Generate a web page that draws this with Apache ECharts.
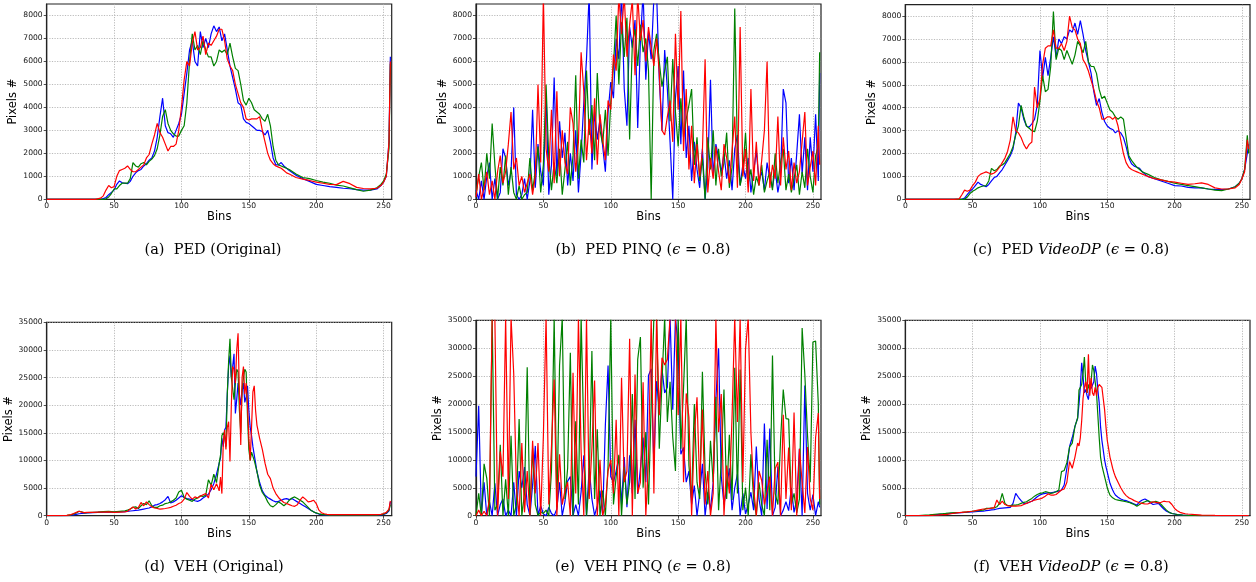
<!DOCTYPE html>
<html><head><meta charset="utf-8">
<script src="https://cdn.jsdelivr.net/npm/echarts@6/dist/echarts.min.js"></script>
<style>html,body{margin:0;padding:0;background:#fff}#c{width:1256px;height:582px}</style>
</head><body><div id="c"></div>
<script>
// ---------- tick labels ----------
const binTicks = [0,50,100,150,200,250];
const pedYTicks = [0,1000,2000,3000,4000,5000,6000,7000,8000];
const vehYTicks = [0,5000,10000,15000,20000,25000,30000,35000];
const pedYMax = 8500, vehYMax = 35000, binMax = 256;

// ---------- bins (x values) ----------
const pedBins = [0,10,20,30,36,
40,42,44,46,48,50,52,54,56,58,60,62,64,66,68,70,72,74,76,78,80,82,84,86,88,90,92,94,96,98,100,102,104,106,108,110,112,114,116,118,120,122,124,126,128,130,132,134,136,138,140,142,144,146,148,150,152,154,156,158,160,162,164,166,168,170,172,174,176,178,180,
185,190,195,200,205,210,215,220,225,230,235,240,245,
248,250,252,254,255];
const vehBins = [0,10,15,18,20,22,24,26,28,30,34,38,42,46,50,54,58,
60,62,64,66,68,70,72,74,76,78,80,82,84,86,88,90,92,94,96,98,100,102,104,106,108,110,112,114,116,118,120,122,124,126,128,
129,130,131,132,133,134,135,136,137,138,139,140,141,142,143,144,145,146,147,148,149,150,151,152,153,154,155,156,
158,160,162,164,166,168,170,172,174,176,178,180,182,184,186,188,190,192,194,196,198,200,202,204,206,208,210,
215,220,225,230,235,240,245,
248,250,252,254,255];
const pinqBins = [0,2,4,6,8,10,12,14,16,18,20,22,24,26,28,30,32,34,36,38,40,42,44,46,48,50,52,54,56,58,60,62,64,66,68,70,72,74,76,78,80,82,84,86,88,90,92,94,96,98,100,102,104,106,108,110,112,114,116,118,120,122,124,126,128,130,132,134,136,138,140,142,144,146,148,150,152,154,156,158,160,162,164,166,168,170,172,174,176,178,180,182,184,186,188,190,192,194,196,198,200,202,204,206,208,210,212,214,216,218,220,222,224,226,228,230,232,234,236,238,240,242,244,246,248,250,252,254,255];

// ---------- (a) PED Original ----------
const pedOrigBlue = [0,0,0,0,0,
0,30,80,200,300,400,650,800,720,700,
680,780,1000,1150,1250,1300,1450,1550,1700,1800,
2100,2700,3600,4400,3200,2900,2850,2700,3000,3300,
3700,4600,5500,6500,6900,6000,5800,7300,6600,7000,
6600,7200,7550,7300,7500,6900,7200,6500,5800,5300,
4800,4200,4100,3500,3350,3300,3200,3100,3000,3000,
2950,2800,3000,2500,1800,1500,1500,1600,1450,1350,
1250,
1050,900,780,650,600,550,520,480,460,420,400,400,450,
600,750,1000,2500,6200];
const pedOrigGreen = [0,0,0,0,0,
0,0,20,100,250,450,450,600,700,700,
700,900,1600,1450,1400,1550,1600,1500,1650,1750,
1900,2200,2800,3600,3900,3300,3000,2850,2750,2750,
3000,3200,4200,6000,7200,6500,6700,6300,6900,6500,
6200,6200,5800,6000,6500,6400,6500,6300,6800,6200,
5700,5600,5000,4300,4100,4400,4200,3900,3800,3700,
3500,3400,3700,3200,2300,1700,1500,1450,1400,1350,
1300,
1100,950,900,820,750,700,620,580,500,420,350,400,500,
650,800,1100,2200,5900];
const pedOrigRed = [0,0,0,0,0,
50,150,400,600,500,550,1000,1250,1300,1350,
1450,1300,1200,1200,1300,1400,1500,1800,1950,2400,
2800,3300,2900,2700,2400,2100,2300,2300,2400,3000,
4000,5200,6000,5800,6800,7300,6500,6600,7100,6300,
6800,6700,6900,7100,7400,7400,6900,6100,5800,5600,
5000,4600,4200,4000,3500,3450,3500,3500,3500,3600,
3000,2500,2000,1700,1550,1450,1400,1350,1250,1150,
1100,
950,880,820,750,700,650,640,780,680,520,470,450,480,
600,750,1000,2500,6000];

// ---------- (b) PED PINQ ----------
const pedPinqBlue = [
400,0,800,0,1000,1600,0,900,0,300,
2200,1800,600,1200,4000,200,0,200,900,0,
800,3900,500,2400,1200,600,4600,200,1500,5300,
1000,3400,1800,2900,600,2000,800,3000,300,2000,
4200,6100,9000,1300,3800,2600,3500,2300,1200,3800,
5100,4400,7000,6100,9000,4800,3200,7500,6600,7800,
3100,6900,9000,5200,7300,6100,8800,9000,5200,3000,
6500,4800,2500,0,4400,5800,2400,5600,1800,3200,
800,2500,1300,500,2200,0,1400,5200,1000,2400,
1800,1200,2000,900,1700,400,2200,2800,600,1500,
900,1800,300,1200,2100,800,1200,400,1600,900,
500,1300,300,1000,4800,4200,700,1800,400,2000,
3700,1100,2700,400,2700,1200,3700,800,
5500];
const pedPinqGreen = [
200,1000,1600,400,2000,900,3300,1500,0,1400,
600,1900,200,1400,300,0,600,0,200,300,
1800,400,1200,2300,300,1500,5000,1800,400,1600,
700,2200,200,1300,2500,600,1900,5400,900,2600,
1600,5600,2800,4100,1700,5500,3000,2400,3900,1900,
4200,5800,8000,5000,7700,6200,7900,2600,6800,7400,
5800,7600,6400,7000,5600,0,6500,7200,6000,4900,
5600,6200,3400,6100,3800,2300,4400,2700,3500,4100,
4800,1500,2700,800,1800,0,2700,1300,3000,600,
2200,1000,1600,2900,500,1400,8300,2000,600,1200,
2900,700,1300,200,1000,600,1500,300,800,1200,
400,2000,700,1600,2200,400,1100,300,900,1500,
200,1200,500,2200,1000,300,1900,2300,
6400];
const pedPinqRed = [
100,1100,0,500,1200,200,800,0,1200,1900,
700,1200,2400,3800,1300,1800,600,1000,300,700,
1100,200,1000,5000,1600,8900,2200,1200,3900,700,
4700,1000,3000,1600,1100,4000,3300,1200,2500,6400,
4700,1700,3500,2000,4400,1500,3700,2600,1700,4300,
3900,6300,5600,8900,7200,8900,6200,7600,8700,5400,
8900,6900,7800,6000,7500,6600,5800,7000,5500,3000,
2800,3600,4300,2500,7200,3900,8200,2100,4800,1300,
3200,700,2400,1000,2100,6100,300,1800,900,2300,
1200,400,2400,1800,700,2100,3600,500,7500,1000,
2200,300,4800,800,2500,600,1700,3000,6000,500,
1500,900,3600,600,2700,1300,2100,400,1600,700,
1200,2500,3800,600,1400,2100,600,3200,
1500];

// ---------- (c) PED VideoDP ----------
const pedDpBlue = [0,0,0,0,0,
0,0,50,200,350,450,600,750,650,600,
550,650,800,950,1000,1150,1300,1500,1700,1900,
2200,2900,4200,4000,3500,3200,3150,3300,3500,4100,
6500,5300,6200,5400,6200,7100,6200,7000,6800,7100,
7000,7400,7300,7700,7200,7800,7200,6500,6000,5500,
4700,4100,4400,3800,3400,3200,3100,3050,2900,3000,
2900,2700,2300,1800,1550,1450,1400,1350,1200,1100,
1000,
900,800,700,600,580,520,500,500,450,430,420,450,550,
700,900,1300,2000,2400];
const pedDpGreen = [0,0,0,0,0,
0,0,0,100,250,350,420,500,550,580,
600,800,1350,1250,1300,1450,1500,1600,1800,2000,
2300,2800,3200,4100,3600,3200,3100,3000,2950,3400,
4300,5400,4700,4800,5800,8200,6100,6600,6500,6100,
6500,6200,5900,6300,6900,6700,6400,6900,6000,5800,
5800,5500,4800,4400,4500,4200,3900,3800,3600,3500,
3600,3500,2700,1900,1700,1550,1400,1300,1200,1150,
1100,
950,850,780,700,650,600,550,500,450,400,380,450,550,
700,900,1300,2800,2000];
const pedDpRed = [0,0,0,0,0,
20,200,400,350,400,600,750,1000,1100,1150,
1200,1150,1100,1150,1250,1400,1600,1800,2100,2600,
3600,3000,2900,2700,2400,2200,2400,2500,4900,4000,
4400,5900,6600,6700,6700,7400,6600,6600,6800,6500,
6900,8000,7500,7400,7000,6800,6100,5900,5600,5200,
4800,4300,4000,3500,3500,3600,3600,3500,3600,3200,
2600,2000,1600,1400,1300,1250,1200,1150,1100,1050,
1000,
900,850,780,750,700,650,680,720,650,500,450,450,500,
650,900,1200,2600,2200];

// ---------- (d) VEH Original ----------
const vehOrigBlue = [0,0,30,80,150,250,350,400,450,500,550,600,650,650,650,700,750,
800,850,900,950,1000,1100,1200,1300,1400,1600,1900,2000,2200,2500,2900,3500,2300,2500,2800,3200,3600,3300,3100,3000,2900,2700,2600,2800,3200,3500,3900,4700,5800,7500,9500,
10500,14000,12500,15500,16000,22000,27000,29000,25000,27000,29300,18500,21000,24000,22000,20000,22500,24000,20500,21500,23500,19000,16000,14500,12500,11000,9500,8000,
6000,4500,3700,3300,3000,2700,2500,2600,2800,3000,3100,2900,3100,2800,2500,2200,1900,1600,1300,1000,700,450,300,200,150,120,100,
100,100,100,100,100,100,100,
150,250,400,900,2500];
const vehOrigGreen = [0,0,50,150,300,500,800,700,500,550,600,650,750,800,700,800,900,
1000,1200,1500,1600,1300,1800,2200,2000,2700,1800,1500,1500,1800,1900,2200,2300,2500,2800,3200,4300,4600,3300,3000,2800,2600,3000,3200,3600,3500,3700,6500,5500,7500,6000,9500,
11000,14500,15000,14500,12500,22000,28000,32000,25000,23000,21000,24000,26500,26000,19000,15000,23000,25000,26500,26000,18000,12000,10000,11500,11200,10000,9000,8000,
5500,4200,3500,2500,1800,1600,2000,2500,2200,1800,2200,2800,3200,3400,3100,2800,2500,2000,1500,1000,700,500,350,250,200,150,120,
100,100,100,100,100,100,120,
200,300,500,1000,2000];
const vehOrigRed = [0,0,50,200,400,600,800,650,550,600,600,650,650,700,600,650,700,
800,1200,1600,1200,1500,2400,1800,2500,2000,1600,1400,1300,1200,1250,1300,1400,1500,1700,1900,2200,2400,3000,4200,3500,3000,3400,3200,3500,3800,4000,3200,5700,4700,5800,4500,
7000,4000,13000,15500,12000,16000,17000,9800,20000,27000,26500,24000,30000,33000,22000,12800,25000,27000,22000,24000,20000,14000,10000,16000,22400,23500,19000,16400,
14000,12000,9500,7500,6700,5000,4000,3300,2800,2400,2200,2000,1800,1700,2000,2800,3400,3000,2500,2600,2800,2200,1000,500,350,250,200,
180,180,180,180,180,180,180,
250,400,600,1200,2700];

// ---------- (e) VEH PINQ ----------
const vehPinqBlue = [
7000,19700,0,6000,0,2500,0,5800,0,2000,
3000,0,1000,0,6000,0,8000,5000,8700,2000,
0,5500,12500,0,1800,300,0,1500,400,0,
1200,6000,0,2500,6200,7000,0,2000,0,4300,
10800,0,8600,3000,0,1800,4500,0,16300,26900,
7000,6000,8000,10600,2000,10500,1500,10800,4000,17200,
3900,8400,14000,6000,25100,26300,9000,24100,19000,26300,
22000,23000,35500,19000,35500,30400,11000,12200,6000,8000,
2000,5400,0,4000,9300,0,4200,1000,6000,20800,
30000,7000,2000,5000,8500,1000,5000,7500,0,4000,
300,2000,4200,1000,12400,3000,0,16500,1200,15600,
0,1500,8800,0,1000,2500,900,5000,600,3000,
12000,0,23300,4000,1000,3800,0,2500,
1500];
const vehPinqGreen = [
0,4000,0,9300,6700,0,35500,1000,2000,12700,
0,6500,0,14300,0,2000,17300,0,4000,26600,
0,12100,2000,0,700,400,1000,0,8000,35500,
1500,26900,35500,3000,8500,29200,0,16900,2000,35500,
14500,0,6000,29500,3000,15500,0,4500,0,9000,
35500,2000,7000,10900,0,8700,2000,6000,21800,3000,
28000,32000,5000,15000,2000,20000,35500,35500,12000,24000,
35500,16800,24000,14000,8000,35500,12000,22900,35500,9000,
3000,20000,6000,3000,25800,8000,2000,13400,6000,21300,
1000,10000,22600,3000,14500,2800,26500,4000,26200,1000,
5000,0,11000,3000,0,6000,2000,0,13600,1000,
28700,4000,2000,13500,22600,17400,17300,2000,4000,500,
3000,33600,25300,14400,6000,31100,31300,20000,
2000];
const vehPinqRed = [
0,1000,0,800,0,3000,35500,35500,0,11500,
7000,35500,3000,35500,25400,5000,0,13000,600,8000,
0,13400,4000,13000,0,14300,35500,2000,12300,24400,
0,11000,2000,4500,6000,0,25600,4000,35500,11500,
0,35500,3000,12000,24200,0,10000,0,2000,8000,
10000,4000,17200,0,24700,6000,8000,31700,0,25300,
4000,6000,23900,0,10000,35500,4000,35500,18000,28300,
27000,28000,35500,35500,35500,18000,35500,6000,21900,17600,
0,14500,21200,5000,19000,2000,8000,0,4000,35500,
15000,21800,0,9000,4000,17700,35500,16800,35500,6000,
29800,35500,14800,5000,0,8000,6300,2000,4300,7000,
0,8400,9600,0,18100,3000,12200,1000,18500,0,
12000,6000,500,12300,3000,1000,14000,18400,
3000];

// ---------- (f) VEH VideoDP ----------
const vehDpBlue = [0,0,20,60,100,150,200,250,280,300,400,480,550,620,700,750,800,
900,950,1050,1100,1200,1300,1350,1400,1450,1500,2200,4000,3300,2700,2200,2200,2400,2600,3000,3400,3700,3900,4000,4100,4100,4200,4300,4400,4600,5500,8500,12400,14000,16000,17500,
20000,23000,27400,25000,22000,22600,21500,20800,23200,22800,22500,24000,26800,25500,22500,20200,16000,13500,11800,10000,8800,7800,6800,5800,5200,4600,4100,3700,
3300,3000,2800,2700,2500,2300,2100,1900,2500,2800,3000,2700,2300,2000,2100,2200,1700,1200,800,600,400,300,200,150,100,80,60,
50,30,20,10,0,0,0,
0,0,0,0,0];
const vehDpGreen = [0,0,100,150,200,250,300,330,360,400,500,560,620,700,800,900,1000,
1300,1300,1350,1400,1600,2200,4000,2200,1800,1800,1900,1900,2000,2200,2400,2500,2800,3100,3500,3800,4000,4100,4300,4200,4000,4100,4300,4600,7900,8100,9500,12300,13000,16000,17500,
22500,22500,23500,25500,28400,24000,22000,23500,22500,24000,27000,26000,24000,22000,18000,14000,10500,9000,8000,7000,6000,5000,4300,3700,3400,3200,3000,2900,
2800,2700,2600,2500,2400,2200,2000,1700,2000,2300,2500,2700,2500,2400,2600,2400,2000,1500,1000,600,400,300,200,150,100,80,60,
40,20,10,0,0,0,0,
0,0,0,0,0];
const vehDpRed = [0,0,0,0,50,80,100,150,180,200,350,500,600,700,800,1000,1200,
1200,1250,1350,1450,2800,2000,2600,2000,1800,1700,1700,1700,1750,1800,2000,2200,2400,2600,2800,2900,3000,3200,3500,3900,3700,3700,3800,4200,4600,4800,6000,9700,8500,10500,13000,
12500,14000,17000,21000,23000,24000,22000,28900,21500,24700,22000,21500,23000,21500,23000,23500,23800,23000,21000,19000,16000,13500,12000,10500,9500,8500,7700,7000,
6000,5000,4200,3600,3200,3000,2700,2500,2300,2200,2100,2100,2300,2500,2400,2300,2400,2600,2500,2500,2000,1300,900,600,450,350,300,
200,100,80,50,30,20,10,
0,0,0,0,0];

// ---------- captions ----------
const captions = [
  '(a)  PED (Original)',
  '(b)  PED PINQ ({i|ϵ} = 0.8)',
  '(c)  PED {i|VideoDP} ({i|ϵ} = 0.8)',
  '(d)  VEH (Original)',
  '(e)  VEH PINQ ({i|ϵ} = 0.8)',
  '(f)  VEH {i|VideoDP} ({i|ϵ} = 0.8)'
];
const xName = 'Bins', yName = 'Pixels #';

// ---------- assembly ----------
const panels = [
  {bins: pedBins, s: [pedOrigBlue, pedOrigGreen, pedOrigRed], yMax: pedYMax, yTicks: pedYTicks},
  {bins: pinqBins, s: [pedPinqBlue, pedPinqGreen, pedPinqRed], yMax: pedYMax, yTicks: pedYTicks},
  {bins: pedBins, s: [pedDpBlue, pedDpGreen, pedDpRed], yMax: pedYMax, yTicks: pedYTicks},
  {bins: vehBins, s: [vehOrigBlue, vehOrigGreen, vehOrigRed], yMax: vehYMax, yTicks: vehYTicks},
  {bins: pinqBins, s: [vehPinqBlue, vehPinqGreen, vehPinqRed], yMax: vehYMax, yTicks: vehYTicks},
  {bins: vehBins, s: [vehDpBlue, vehDpGreen, vehDpRed], yMax: vehYMax, yTicks: vehYTicks}
];
const layout = [
  {left: 46.7, top: 4, width: 345, height: 195.3, yGap: 24, cx: 213, cy: 250},
  {left: 476, top: 4, width: 345, height: 195.3, yGap: 25, cx: 643, cy: 250},
  {left: 905.3, top: 4.7, width: 344.7, height: 194.6, yGap: 26, cx: 1071, cy: 250},
  {left: 46.7, top: 322.3, width: 345, height: 193.4, yGap: 29.5, cx: 214, cy: 567},
  {left: 476, top: 320.3, width: 345, height: 195.4, yGap: 29.5, cx: 643, cy: 567},
  {left: 905.3, top: 320.3, width: 344.7, height: 195.4, yGap: 29, cx: 1071, cy: 567}
];
const colors = ['#0000ff', '#008000', '#ff0000'];

panels.forEach((p, i) => p.s.forEach((arr, k) => {
  if (arr.length !== p.bins.length) throw new Error('panel ' + i + ' series ' + k + ' length ' + arr.length + ' vs ' + p.bins.length);
}));

const tickFont = {fontFamily: 'DejaVu Sans', fontSize: 7.6, color: '#111'};
const nameFont = {fontFamily: 'DejaVu Sans', fontSize: 11.5, color: '#000'};
const gridLine = {show: true, lineStyle: {color: '#aaaaaa', width: 0.8, type: [1.2, 1.4]}};

const option = {
  animation: false,
  backgroundColor: '#fff',
  grid: layout.map(l => ({left: l.left, top: l.top, width: l.width, height: l.height, show: true,
    borderColor: '#222', borderWidth: 1.2, backgroundColor: 'transparent', containLabel: false, outerBoundsMode: 'none'})),
  xAxis: panels.map((p, i) => ({
    type: 'value', gridIndex: i, min: 0, max: binMax, interval: 50,
    name: xName, nameLocation: 'middle', nameGap: 11, nameTextStyle: nameFont,
    axisLine: {show: true, onZero: false, lineStyle: {color: '#222', width: 1.2}},
    axisTick: {show: true, inside: false, length: 3, customValues: binTicks, lineStyle: {color: '#222', width: 0.8}},
    axisLabel: {show: true, margin: 3, customValues: binTicks, formatter: v => String(v), ...tickFont},
    splitLine: gridLine
  })),
  yAxis: panels.map((p, i) => ({
    type: 'value', gridIndex: i, min: 0, max: p.yMax, interval: p.yTicks[1],
    name: yName, nameLocation: 'middle', nameGap: layout[i].yGap, nameTextStyle: nameFont,
    axisLine: {show: true, onZero: false, lineStyle: {color: '#222', width: 1.2}},
    axisTick: {show: true, inside: false, length: 3, customValues: p.yTicks, lineStyle: {color: '#222', width: 0.8}},
    axisLabel: {show: true, margin: 4, customValues: p.yTicks, formatter: v => String(v), ...tickFont},
    splitLine: gridLine
  })),
  series: panels.flatMap((p, i) => p.s.map((arr, k) => ({
    type: 'line', xAxisIndex: i, yAxisIndex: i, showSymbol: false, symbol: 'none', silent: true, clip: true,
    data: p.bins.map((b, j) => [b, arr[j]]),
    lineStyle: {color: colors[k], width: 1.2},
    itemStyle: {color: colors[k]}
  }))),
  graphic: captions.map((t, i) => ({
    type: 'text', x: layout[i].cx, y: layout[i].cy, silent: true,
    style: {text: t, align: 'center', verticalAlign: 'middle', font: '14.5px "DejaVu Serif"', fill: '#000',
      rich: {i: {font: 'italic 14.5px "DejaVu Serif"', fill: '#000'}}}
  }))
};
const chart = echarts.init(document.getElementById('c'), null, {renderer: 'canvas', width: 1256, height: 582});
chart.setOption(option);
</script></body></html>
